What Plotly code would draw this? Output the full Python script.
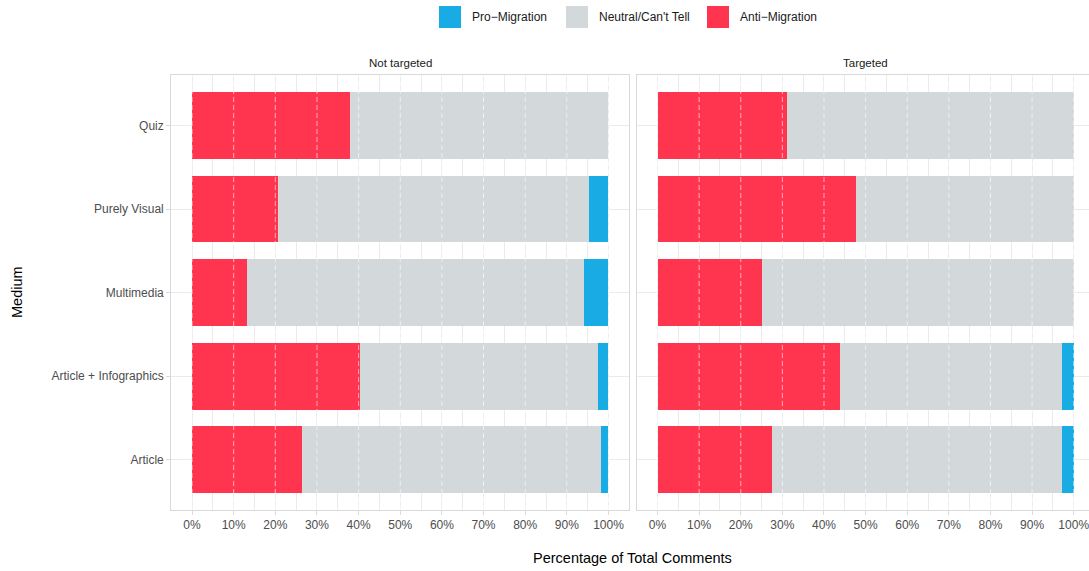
import plotly.graph_objects as go

# ---------------- data ----------------
MEDIA = ["Article", "Article + Infographics", "Multimedia", "Purely Visual", "Quiz"]
PANELS = ["Not targeted", "Targeted"]

NT_ANTI = [26.4, 40.4, 13.2, 20.7, 38.0]
NT_NEUTRAL = [71.9, 57.2, 81.0, 74.7, 62.0]
NT_PRO = [1.7, 2.4, 5.8, 4.6, 0.0]

T_ANTI = [27.6, 43.8, 25.0, 47.6, 31.0]
T_NEUTRAL = [69.5, 53.3, 75.0, 52.4, 69.0]
T_PRO = [2.9, 2.9, 0.0, 0.0, 0.0]

SERIES = ["Anti\u2212Migration", "Neutral/Can't Tell", "Pro\u2212Migration"]
LEGEND_ORDER = ["Pro\u2212Migration", "Neutral/Can't Tell", "Anti\u2212Migration"]
COLORS = {"Anti\u2212Migration": "#FF3550",
          "Neutral/Can't Tell": "#D3D8DB",
          "Pro\u2212Migration": "#19ACE4"}

XTICKS = [0, 10, 20, 30, 40, 50, 60, 70, 80, 90, 100]
XTICKTEXT = [f"{v}%" for v in XTICKS]

# ---------------- layout geometry (pixels) ----------------
W, H = 1089, 571
def px(x):
    return x / W
def py(y):
    return 1 - y / H

FONT = "Liberation Sans, Arial, Helvetica, sans-serif"
GRID = "#EBEBEB"
BORDER = "#D9D9D9"

fig = go.Figure()

data = {
    "x": [NT_ANTI, NT_NEUTRAL, NT_PRO],
    "x2": [T_ANTI, T_NEUTRAL, T_PRO],
}
for xa, ya in (("x", "y"), ("x2", "y2")):
    for name, vals in zip(SERIES, data[xa]):
        fig.add_trace(go.Bar(
            x=vals, y=MEDIA, orientation="h", name=name,
            marker=dict(color=COLORS[name], line=dict(width=0)),
            width=0.8, xaxis=xa, yaxis=ya, showlegend=False,
        ))

common_x = dict(
    tickvals=XTICKS, ticktext=XTICKTEXT, showgrid=True, gridcolor=GRID, gridwidth=1,
    minor=dict(dtick=5, tick0=0, showgrid=True, gridcolor=GRID, gridwidth=1),
    zeroline=False, showline=True, linecolor=BORDER, linewidth=1, mirror=True,
    ticks="outside", ticklen=4, tickcolor=BORDER, ticklabeloverflow="allow",
    tickfont=dict(family=FONT, size=12, color="#4D4D4D"),
)
common_y = dict(
    type="category", categoryorder="array", categoryarray=MEDIA,
    range=[-0.6, 4.6], showgrid=True, gridcolor=GRID, gridwidth=1, zeroline=False,
    showline=True, linecolor=BORDER, linewidth=1,
    tickfont=dict(family=FONT, size=12, color="#4D4D4D"),
)

scale = (1073.7 - 657.3) / 100.0
right_max = (W - 657.3) / scale

fig.update_layout(
    width=W, height=H, margin=dict(l=0, r=0, t=0, b=0),
    plot_bgcolor="white", paper_bgcolor="white", barmode="stack", bargap=0.2,
    font=dict(family=FONT),
    xaxis=dict(domain=[px(171.2), px(629.3)], range=[-5, 105], anchor="y", **common_x),
    xaxis2=dict(domain=[px(636.7), 1.0], range=[-5, right_max], anchor="y2", **common_x),
    yaxis=dict(domain=[py(510), py(75.3)], anchor="x", mirror=True,
               ticks="outside", ticklen=4, tickcolor=BORDER, **common_y),
    yaxis2=dict(domain=[py(510), py(75.3)], anchor="x2", mirror=False,
                showticklabels=False, ticks="", **common_y),
)

# white dashed reference lines over bars
for xr, yr in (("x", "y domain"), ("x2", "y2 domain")):
    for v in XTICKS:
        fig.add_shape(type="line", xref=xr, yref=yr, x0=v, x1=v, y0=0, y1=1,
                      line=dict(color="rgba(255,255,255,0.6)", width=1, dash="5px,3px"),
                      layer="above")

# facet strip labels
for label, cx in zip(PANELS, [(171.2 + 629.3) / 2, (636.7 + 1094.5) / 2]):
    fig.add_annotation(text=label, x=px(cx), y=py(63), xref="paper", yref="paper",
                       showarrow=False, xanchor="center", yanchor="middle",
                       font=dict(family=FONT, size=11.5, color="#1A1A1A"))

# axis titles
fig.add_annotation(text="Percentage of Total Comments", x=px(632), y=py(558),
                   xref="paper", yref="paper", showarrow=False,
                   xanchor="center", yanchor="middle",
                   font=dict(family=FONT, size=14.5, color="black"))
fig.add_annotation(text="Medium", x=px(17), y=py(292), xref="paper", yref="paper",
                   showarrow=False, textangle=-90, xanchor="center", yanchor="middle",
                   font=dict(family=FONT, size=14.5, color="black"))

# legend (top, centred)
LEG_X = [439, 566, 707]
for name, lx in zip(LEGEND_ORDER, LEG_X):
    fig.add_shape(type="rect", xref="paper", yref="paper",
                  x0=px(lx), x1=px(lx + 22), y0=py(28), y1=py(6),
                  fillcolor=COLORS[name], line=dict(width=0))
    fig.add_annotation(text=name, x=px(lx + 31), y=py(17), xref="paper", yref="paper",
                       showarrow=False, xanchor="left", yanchor="middle",
                       font=dict(family=FONT, size=12, color="#1A1A1A"))

fig.write_html("out.html", config={"displayModeBar": False},
               post_script="document.body.style.margin='0';")
